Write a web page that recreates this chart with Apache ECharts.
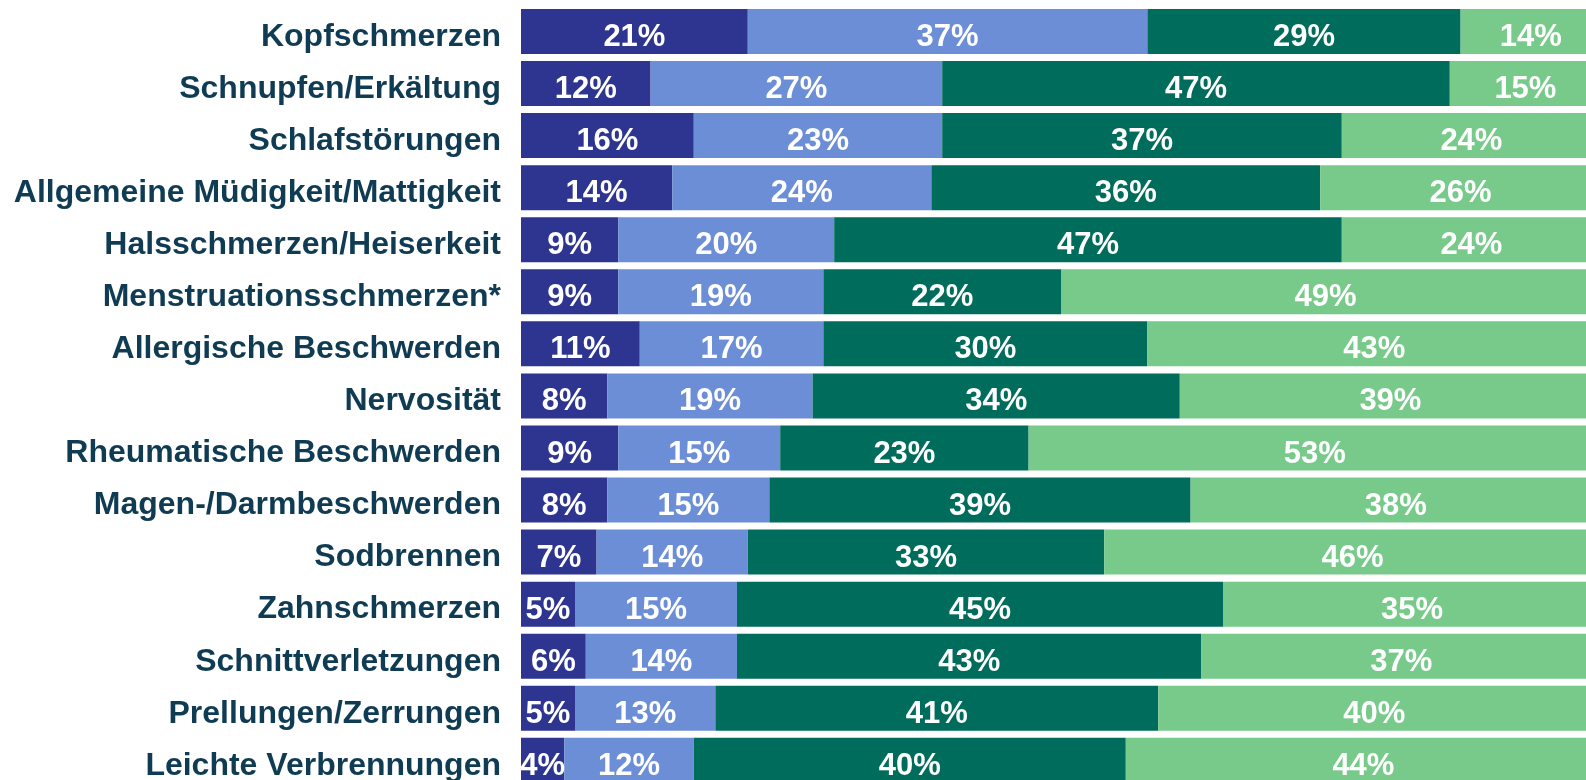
<!DOCTYPE html>
<html>
<head>
<meta charset="utf-8">
<script src="https://cdn.jsdelivr.net/npm/echarts@6/dist/echarts.min.js"></script>
<style>
  html, body { margin: 0; padding: 0; background: #fff; overflow: hidden; }
  /* etwas größer als das Fenster: das Original ist rechts und unten abgeschnitten */
  #chart { width: 1620px; height: 800px; }
</style>
</head>
<body>
<div id="chart"></div>
<script>
// Kategorien (von oben nach unten)
const categories = [
  'Kopfschmerzen',
  'Schnupfen/Erkältung',
  'Schlafstörungen',
  'Allgemeine Müdigkeit/Mattigkeit',
  'Halsschmerzen/Heiserkeit',
  'Menstruationsschmerzen*',
  'Allergische Beschwerden',
  'Nervosität',
  'Rheumatische Beschwerden',
  'Magen-/Darmbeschwerden',
  'Sodbrennen',
  'Zahnschmerzen',
  'Schnittverletzungen',
  'Prellungen/Zerrungen',
  'Leichte Verbrennungen'
]

// Anteile in Prozent je Segment
const seg1 = [21, 12, 16, 14, 9, 9, 11, 8, 9, 8, 7, 5, 6, 5, 4]
const seg2 = [37, 27, 23, 24, 20, 19, 17, 19, 15, 15, 14, 15, 14, 13, 12]
const seg3 = [29, 47, 37, 36, 47, 22, 30, 34, 23, 39, 33, 45, 43, 41, 40]
const seg4 = [14, 15, 24, 26, 24, 49, 43, 39, 53, 38, 46, 35, 37, 40, 44]

const colors = ['#2E3590', '#6C8ED6', '#006C5B', '#77CA8A']
const segments = [seg1, seg2, seg3, seg4]

let myChart = echarts.init(document.getElementById('chart'))

let series = segments.map((data, i) => ({
  name: 's' + (i + 1),
  type: 'bar',
  stack: 'total',
  barWidth: 45,
  itemStyle: { color: colors[i] },
  label: {
    show: true,
    position: 'inside',
    formatter: '{c}%',
    color: '#fff',
    fontFamily: 'Liberation Sans',
    fontWeight: 'bold',
    fontSize: 31,
    offset: [0, 6]
  },
  data: data
}))

myChart.setOption({
  animation: false,
  grid: {
    left: 521,
    right: 19,
    top: 5.4,
    bottom: 13.6,
    containLabel: false
  },
  xAxis: {
    type: 'value',
    min: 0,
    max: 100,
    show: false
  },
  yAxis: {
    type: 'category',
    inverse: true,
    data: categories,
    axisLine: { show: false },
    axisTick: { show: false },
    axisLabel: {
      margin: 20,
      formatter: v => '{t|' + v + '}',
      rich: {
        t: {
          color: '#0F3B53',
          fontFamily: 'Liberation Sans',
          fontWeight: 'bold',
          fontSize: 32,
          padding: [11, 0, 0, 0]
        }
      }
    }
  },
  series: series
})
</script>
</body>
</html>
